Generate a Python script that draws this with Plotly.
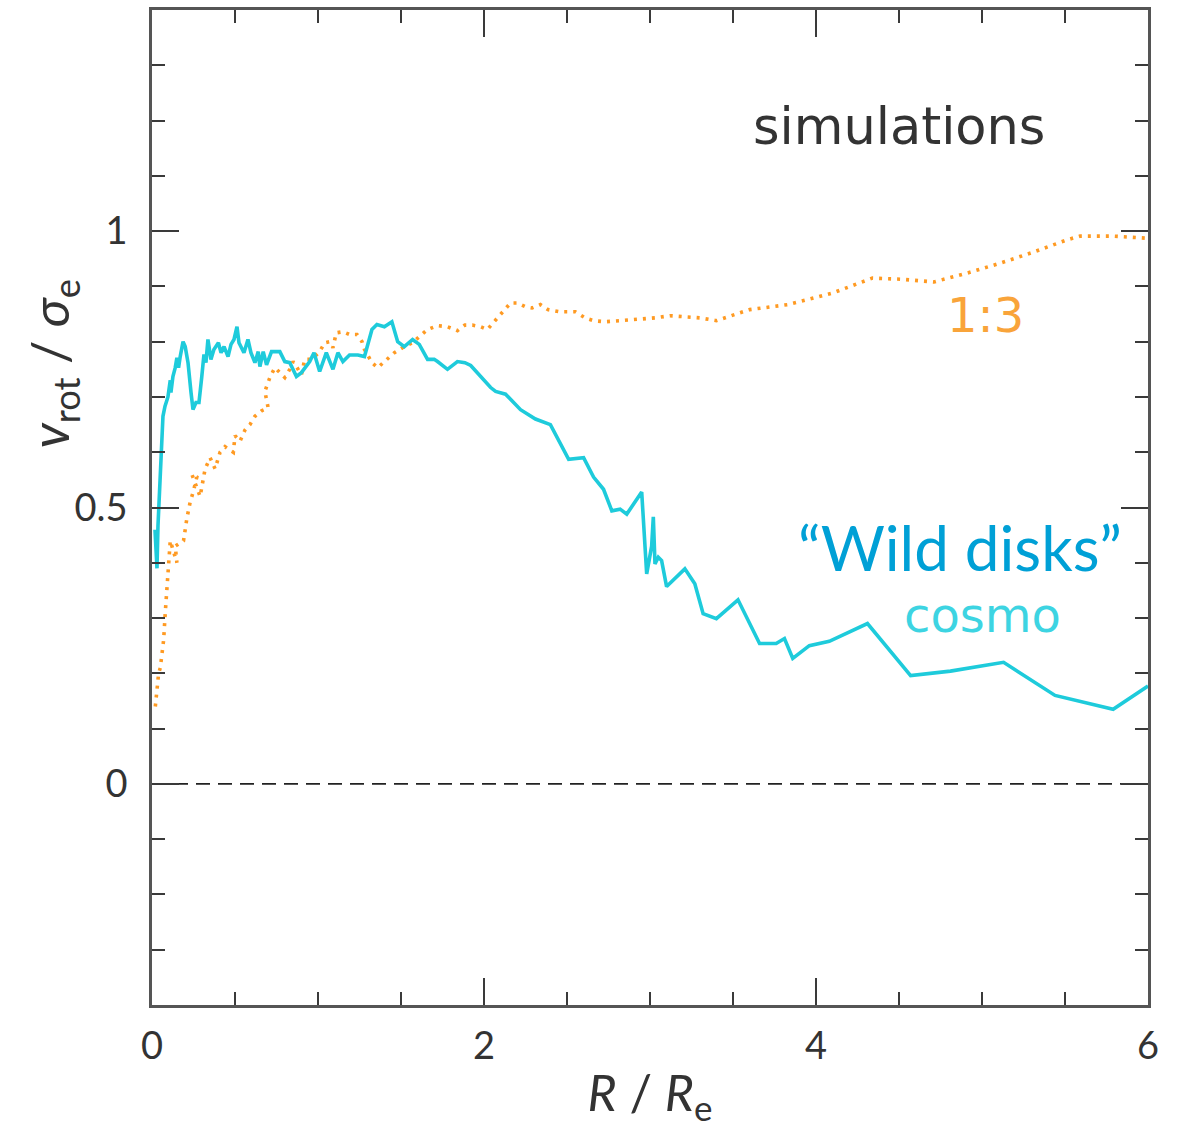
import plotly.graph_objects as go

# ---- data ----
cosmo_x = [0.018, 0.03, 0.036, 0.05, 0.06, 0.066, 0.078, 0.096, 0.11, 0.114, 0.126, 0.14, 0.15, 0.16, 0.17,
           0.187, 0.2, 0.217, 0.235, 0.247, 0.265, 0.283, 0.30, 0.313, 0.325, 0.337, 0.355, 0.373, 0.40,
           0.416, 0.434, 0.458, 0.476, 0.494, 0.512, 0.524, 0.554, 0.578, 0.596, 0.62, 0.64, 0.65, 0.67,
           0.69, 0.72, 0.77, 0.80, 0.83, 0.87, 0.90, 0.95, 0.976, 1.01, 1.05, 1.09, 1.12, 1.15, 1.19, 1.24,
           1.28, 1.325, 1.355, 1.40, 1.445, 1.48, 1.52, 1.57, 1.61, 1.66, 1.70, 1.72, 1.78, 1.84, 1.885,
           1.92, 2.04, 2.07, 2.13, 2.22, 2.31, 2.40, 2.51, 2.60, 2.66, 2.72, 2.77, 2.82, 2.86, 2.95, 2.98,
           3.01, 3.02, 3.03, 3.05, 3.07, 3.10, 3.21, 3.27, 3.32, 3.40, 3.53, 3.66, 3.76, 3.81, 3.86, 3.96,
           4.08, 4.31, 4.57, 4.81, 5.13, 5.44, 5.79, 6.0]
cosmo_y = [0.46, 0.39, 0.467, 0.57, 0.62, 0.665, 0.683, 0.70, 0.73, 0.708, 0.737, 0.753, 0.771, 0.753, 0.773,
           0.80, 0.791, 0.762, 0.708, 0.677, 0.69, 0.69, 0.737, 0.777, 0.762, 0.804, 0.768, 0.786, 0.798,
           0.78, 0.791, 0.773, 0.795, 0.804, 0.827, 0.798, 0.78, 0.804, 0.78, 0.762, 0.782, 0.755, 0.782,
           0.758, 0.782, 0.782, 0.764, 0.762, 0.737, 0.744, 0.764, 0.78, 0.746, 0.78, 0.75, 0.78, 0.764,
           0.776, 0.776, 0.773, 0.822, 0.831, 0.827, 0.836, 0.80, 0.791, 0.804, 0.795, 0.768, 0.768, 0.764,
           0.75, 0.764, 0.762, 0.757, 0.717, 0.71, 0.705, 0.677, 0.66, 0.65, 0.587, 0.59, 0.555, 0.533,
           0.494, 0.497, 0.488, 0.528, 0.38, 0.43, 0.483, 0.398, 0.41, 0.404, 0.357, 0.389, 0.362, 0.308,
           0.299, 0.333, 0.254, 0.254, 0.263, 0.227, 0.25, 0.258, 0.29, 0.196, 0.204, 0.22, 0.16, 0.135, 0.177]

merger_x = [0.02, 0.03, 0.04, 0.05, 0.07, 0.08, 0.09, 0.10, 0.11, 0.13, 0.15, 0.14, 0.19, 0.21, 0.23, 0.25,
            0.27, 0.24, 0.29, 0.32, 0.35, 0.38, 0.41, 0.44, 0.49, 0.50, 0.53, 0.56, 0.59, 0.62, 0.66, 0.70,
            0.68, 0.71, 0.74, 0.77, 0.80, 0.83, 0.85, 0.87, 0.90, 0.92, 0.95, 0.97, 1.01, 1.04, 1.07, 1.09,
            1.11, 1.15, 1.19, 1.235, 1.265, 1.28, 1.325, 1.36, 1.40, 1.46, 1.52, 1.57, 1.61, 1.66, 1.72,
            1.78, 1.84, 1.885, 1.93, 1.98, 2.02, 2.07, 2.11, 2.16, 2.20, 2.25, 2.29, 2.34, 2.385, 2.46,
            2.55, 2.61, 2.66, 2.73, 2.82, 2.94, 3.03, 3.12, 3.21, 3.30, 3.40, 3.60, 3.83, 4.10, 4.34, 4.51,
            4.71, 4.91, 5.11, 5.31, 5.51, 5.59, 5.79, 6.0]
merger_y = [0.14, 0.18, 0.20, 0.21, 0.26, 0.31, 0.36, 0.39, 0.44, 0.42, 0.40, 0.43, 0.44, 0.48, 0.51, 0.53,
            0.555, 0.56, 0.52, 0.57, 0.59, 0.57, 0.60, 0.61, 0.60, 0.63, 0.62, 0.64, 0.65, 0.665, 0.675, 0.68,
            0.71, 0.735, 0.753, 0.744, 0.735, 0.75, 0.764, 0.755, 0.74, 0.768, 0.768, 0.77, 0.782, 0.798, 0.80,
            0.789, 0.816, 0.818, 0.813, 0.813, 0.80, 0.786, 0.762, 0.753, 0.764, 0.78, 0.791, 0.798, 0.809,
            0.822, 0.829, 0.827, 0.82, 0.83, 0.83, 0.827, 0.822, 0.84, 0.852, 0.87, 0.87, 0.863, 0.861, 0.867,
            0.858, 0.854, 0.854, 0.843, 0.838, 0.836, 0.838, 0.84, 0.843, 0.847, 0.845, 0.843, 0.838, 0.858,
            0.867, 0.888, 0.915, 0.913, 0.908, 0.924, 0.942, 0.962, 0.984, 0.991, 0.991, 0.987]

x_range = [0, 6]
y_range = [-0.4, 1.4]

CYAN = "#1ECBDB"
ORANGE = "#FF9A22"
AXC = "#3a3a3a"
FONT = "Lato"
LABEL_FONT = "DejaVu Sans"

fig = go.Figure()
fig.add_trace(go.Scatter(x=merger_x, y=merger_y, mode="lines",
                         line=dict(color=ORANGE, width=3.6, dash="3px,6px"),
                         name="1:3", showlegend=False))
fig.add_trace(go.Scatter(x=cosmo_x, y=cosmo_y, mode="lines",
                         line=dict(color=CYAN, width=3.6),
                         name="cosmo", showlegend=False))

fig.add_shape(type="line", xref="x", yref="y", x0=0, x1=6, y0=0, y1=0,
              line=dict(color="#222222", width=1.6, dash="14px,8px"), layer="below")

axis_common = dict(showgrid=False, zeroline=False, showline=True, linecolor="#555555", linewidth=2.5,
                   mirror="allticks", ticks="inside", ticklen=27, tickwidth=2, tickcolor=AXC,
                   tickfont=dict(family=FONT, size=38, color="#333333"))

fig.update_xaxes(range=x_range, dtick=2, tick0=0,
                 minor=dict(dtick=0.5, ticks="inside", ticklen=13, tickwidth=2, tickcolor=AXC),
                 ticklabelstandoff=6,
                 title=dict(text="<i>R</i> / <i>R</i><sub>e</sub>", font=dict(family=FONT, size=50, color="#333333"),
                            standoff=10),
                 **axis_common)
fig.update_yaxes(range=y_range, dtick=0.5, tick0=0,
                 minor=dict(dtick=0.1, ticks="inside", ticklen=13, tickwidth=2, tickcolor=AXC),
                 ticklabelstandoff=14,
                 **axis_common)

annotations = [
    dict(text="<i>v</i><sub>rot</sub> / <i>σ</i><sub>e</sub>", x=-0.100, y=0.76, xref="paper", yref="y",
         xanchor="center", yanchor="middle",
         textangle=-90, showarrow=False, font=dict(family=FONT, size=52, color="#333333")),
    dict(text="simulations", x=4.50, y=1.19, xref="x", yref="y", showarrow=False,
         font=dict(family=LABEL_FONT, size=51, color="#333333")),
    dict(text="1:3", x=5.02, y=0.848, xref="x", yref="y", showarrow=False,
         font=dict(family=LABEL_FONT, size=48, color="#F9A43A")),
    dict(text="“Wild disks”", x=4.87, y=0.428, xref="x", yref="y", showarrow=False,
         font=dict(family=FONT, size=62, color="#00A0D6")),
    dict(text="cosmo", x=5.0, y=0.305, xref="x", yref="y", showarrow=False,
         font=dict(family=LABEL_FONT, size=48, color="#3DD4E2")),
]
fig.update_layout(annotations=annotations,
                  width=1179, height=1133, plot_bgcolor="white", paper_bgcolor="white",
                  margin=dict(l=152, r=31, t=10, b=128, autoexpand=False))

fig.write_html("out.html")
